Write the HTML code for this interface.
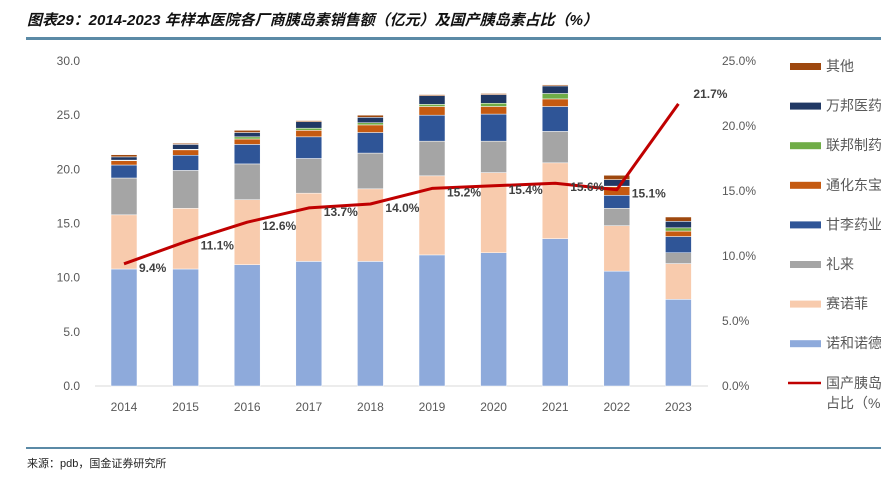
<!DOCTYPE html>
<html><head><meta charset="utf-8"><style>
body{margin:0;width:881px;height:477px;background:#fff;overflow:hidden;font-family:"Liberation Sans","Noto Sans CJK SC",sans-serif;}
svg text{font-family:"Liberation Sans","Noto Sans CJK SC",sans-serif;}
</style></head><body>
<svg width="881" height="477">
<text x="27" y="25" font-size="15" font-weight="bold" font-style="italic" fill="#111">图表29：2014-2023 年样本医院各厂商胰岛素销售额（亿元）及国产胰岛素占比（%）</text>
<rect x="26" y="37" width="855" height="3" fill="#5b8aa6"/>
<rect x="26" y="447" width="855" height="2" fill="#5b8aa6"/>
<text x="27" y="467" font-size="11" fill="#222">来源：pdb，国金证券研究所</text>
<g id="plot"></g>
</svg>
<script>
const years=["2014","2015","2016","2017","2018","2019","2020","2021","2022","2023"];
const novo=[10.8,10.8,11.2,11.5,11.5,12.1,12.3,13.6,10.6,8.0];
const sanofi=[5.0,5.6,6.0,6.3,6.7,7.3,7.4,7.0,4.2,3.3];
const lilly=[3.4,3.5,3.3,3.2,3.3,3.2,2.9,2.9,1.6,1.0];
const ganli=[1.2,1.4,1.8,2.0,1.9,2.4,2.5,2.3,1.2,1.5];
const tonghua=[0.4,0.5,0.5,0.6,0.7,0.8,0.7,0.7,0.8,0.5];
const lianbang=[0.05,0.05,0.2,0.2,0.2,0.2,0.3,0.5,0.05,0.3];
const wanbang=[0.3,0.45,0.4,0.6,0.5,0.8,0.8,0.7,0.6,0.6];
const other=[0.2,0.1,0.2,0.1,0.2,0.1,0.1,0.1,0.4,0.4];
const share=[9.4,11.1,12.6,13.7,14.0,15.2,15.4,15.6,15.1,21.7];
const leftTicks=[0,5,10,15,20,25,30];
const rightTicks=[0,5,10,15,20,25];
const seriesNames=["诺和诺德","赛诺菲","礼来","甘李药业","通化东宝","联邦制药","万邦医药","其他"];
const seriesColors=["#8eaadb","#f8cbad","#a5a5a5","#2f5597","#c55a11","#70ad47","#203864","#9e480e"];
const seriesData=[novo,sanofi,lilly,ganli,tonghua,lianbang,wanbang,other];
const NS="http://www.w3.org/2000/svg";
const g=document.getElementById('plot');
const y0=386,yTop=61;
const yL=v=>y0-(v/30)*(y0-yTop);
const yR=v=>y0-(v/25)*(y0-yTop);
const xC=i=>124+i*61.6;
function el(t,a){const e=document.createElementNS(NS,t);for(const k in a)e.setAttribute(k,a[k]);g.appendChild(e);return e;}
leftTicks.forEach(v=>{const t=el('text',{x:80,y:yL(v)+4,'font-size':12,fill:'#595959','text-anchor':'end'});t.textContent=v.toFixed(1);

});
rightTicks.forEach(v=>{const t=el('text',{x:722,y:yR(v)+4,'font-size':12,fill:'#595959'});t.textContent=v.toFixed(1)+'%';

});
const ax=el('line',{x1:95,x2:708,y1:y0,y2:y0,stroke:'#d9d9d9'});


years.forEach((yr,i)=>{let acc=0;
seriesData.forEach((s,k)=>{const v=s[i];const r=el('rect',{x:xC(i)-13,y:yL(acc+v),width:26,height:yL(acc)-yL(acc+v),fill:seriesColors[k],stroke:'#fff','stroke-width':0.5});


acc+=v;});
const t=el('text',{x:xC(i),y:411,'font-size':12,fill:'#595959','text-anchor':'middle'});t.textContent=yr;

});
const pts=share.map((v,i)=>xC(i)+','+yR(v)).join(' ');
const pl=el('polyline',{points:pts,fill:'none',stroke:'#c00000','stroke-width':3,'stroke-linejoin':'round'});


share.forEach((v,i)=>{const t=el('text',{x:xC(i)+15,y:yR(v)+(i==9?-6:8),'font-size':12,'font-weight':'bold',fill:'#404040'});t.textContent=v.toFixed(1)+'%';

});
const legendOrder=[7,6,5,4,3,2,1,0];
legendOrder.forEach((k,j)=>{const y=66+j*39.6;
const r=el('rect',{x:790,y:y-3,width:31,height:7,fill:seriesColors[k]});


const t=el('text',{x:826,y:y+5,'font-size':14,fill:'#595959'});t.textContent=seriesNames[k];

});
const ll=el('line',{x1:788,x2:821,y1:383,y2:383,stroke:'#c00000','stroke-width':2.5});


const t1=el('text',{x:826,y:388,'font-size':14,fill:'#595959'});t1.textContent='国产胰岛素';


const t2=el('text',{x:826,y:408,'font-size':14,fill:'#595959'});t2.textContent='占比（%）';


</script>
</body></html>
